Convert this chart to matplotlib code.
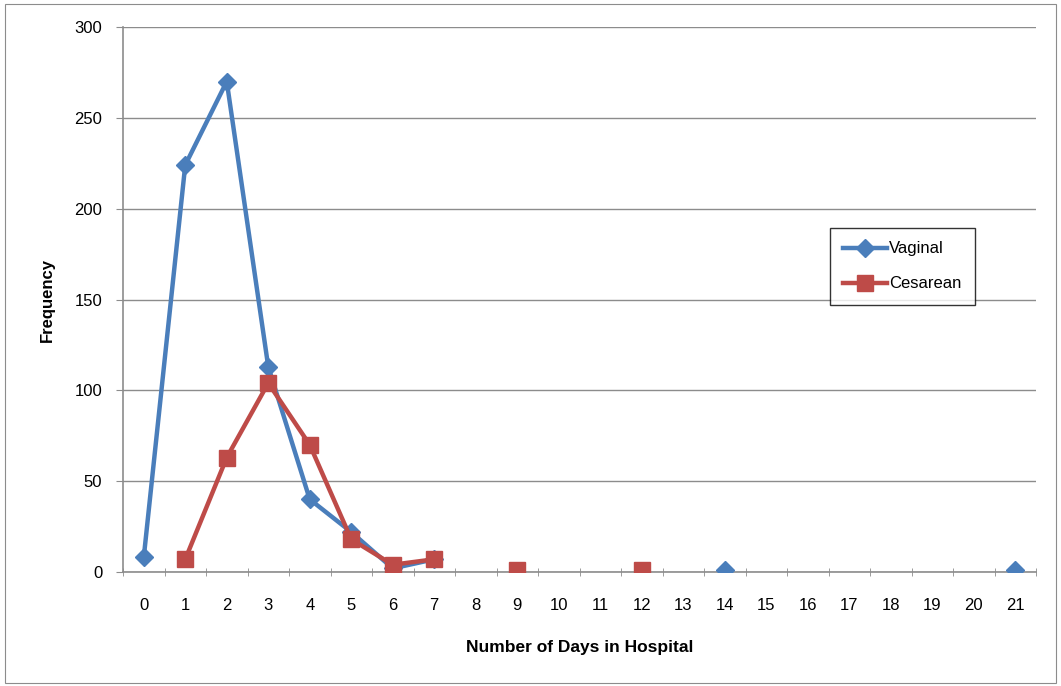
import matplotlib
matplotlib.use("Agg")
import matplotlib.pyplot as plt
from matplotlib.patches import Rectangle
import numpy as np

# Data (NaN = no value for that day, line breaks there)
days = list(range(22))
nan = np.nan
vaginal = [8, 224, 270, 113, 40, 22, 2, 7, nan, nan, nan, nan, nan, nan,
           1, nan, nan, nan, nan, nan, nan, 1]
cesarean = [nan, 7, 63, 104, 70, 18, 4, 7, nan, 1, nan, nan, 1, nan,
            nan, nan, nan, nan, nan, nan, nan, nan]

plt.rcParams['font.family'] = ['Liberation Sans', 'DejaVu Sans']
blue = '#4A7EBB'
red = '#BE4B48'
grid_col = '#8C8C8C'

fig = plt.figure(figsize=(10.61, 6.86), dpi=100)
ax = fig.add_axes([123 / 1061, 1 - 572 / 686, (1036 - 123) / 1061, (572 - 27) / 686])

# outer chart border
fig.patches.append(Rectangle((5 / 1061, 3 / 686), 1051 / 1061, 679 / 686,
                             transform=fig.transFigure, fill=False,
                             edgecolor='#8C8C8C', linewidth=0.8))

ax.plot(days, vaginal, color=blue, linewidth=3.2, marker='D', markersize=9,
        label='Vaginal', zorder=3)
ax.plot(days, cesarean, color=red, linewidth=3.2, marker='s', markersize=11,
        label='Cesarean', zorder=4)

ax.set_xlim(-0.5, 21.5)
ax.set_ylim(0, 300)
ax.set_yticks(np.arange(0, 301, 50))
ax.set_xticks(days)
ax.set_xticks(np.arange(-0.5, 22, 1), minor=True)
ax.tick_params(axis='x', which='major', length=0, pad=19, labelsize=12)
ax.tick_params(axis='x', which='minor', length=6, color=grid_col, direction='inout')
ax.tick_params(axis='y', length=5, color=grid_col, labelsize=12, pad=10)

ax.grid(axis='y', color=grid_col, linewidth=1)
ax.set_axisbelow(True)
for s in ['top', 'right']:
    ax.spines[s].set_visible(False)
for s in ['left', 'bottom']:
    ax.spines[s].set_color(grid_col)
    ax.spines[s].set_linewidth(1.2)

ax.set_ylabel('Frequency', fontsize=12, fontweight='bold', labelpad=14)
ax.set_xlabel('Number of Days in Hospital', fontsize=12.5, fontweight='bold', labelpad=19)

leg = ax.legend(loc='upper left', bbox_to_anchor=((830 - 123) / 913, (572 - 228) / 545),
                fancybox=False, frameon=True, edgecolor='black', fontsize=12,
                handlelength=2.6, borderpad=0.8, labelspacing=1.2, handletextpad=0.15,
                borderaxespad=0)
leg.get_frame().set_linewidth(1.0)

fig.savefig('out.png', dpi=100)
